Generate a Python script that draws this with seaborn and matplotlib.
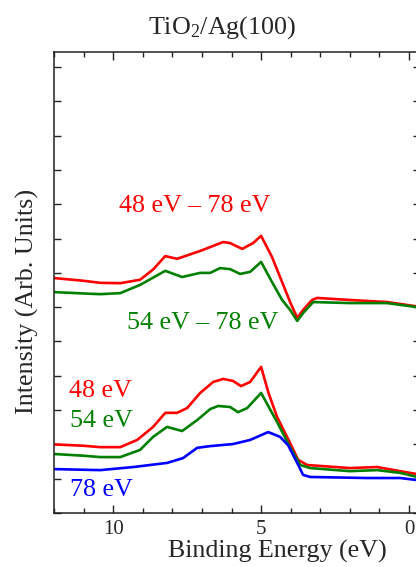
import matplotlib
matplotlib.use("Agg")
import matplotlib.pyplot as plt
import seaborn as sns
import pandas as pd
from matplotlib.ticker import MultipleLocator, NullFormatter

# binding energy (eV) and intensity (arb. units)
be_48 = [12.0, 11.0, 10.44, 9.76, 9.19, 8.65, 8.24, 7.84, 7.5, 7.06, 6.62, 6.28, 5.95,
         5.68, 5.37, 5.0, 4.75, 4.46, 4.02, 3.75, 3.45, 2.0, 1.08, 0.3, -0.37]
int_48 = [2.0, 1.96, 1.92, 1.92, 2.13, 2.51, 2.92, 2.92, 3.06, 3.50, 3.82, 3.91, 3.85,
          3.70, 3.82, 4.26, 3.5, 2.80, 2.04, 1.55, 1.40, 1.31, 1.34, 1.22, 1.12]

be_54 = [12.0, 11.0, 10.44, 9.76, 9.09, 8.65, 8.18, 7.67, 7.16, 6.72, 6.45, 6.05, 5.78,
         5.47, 5.0, 4.46, 4.02, 3.68, 3.34, 2.0, 1.08, 0.3, -0.37]
int_54 = [1.72, 1.67, 1.63, 1.63, 1.84, 2.22, 2.51, 2.39, 2.71, 3.03, 3.12, 3.09, 2.94,
          3.06, 3.50, 2.65, 1.92, 1.40, 1.31, 1.22, 1.25, 1.17, 1.03]

be_78 = [12.0, 10.44, 9.32, 8.18, 7.64, 7.16, 6.72, 5.95, 5.37, 4.76, 4.36, 4.09, 3.78,
         3.58, 3.34, 1.42, 0.3, -0.37]
int_78 = [1.28, 1.25, 1.34, 1.46, 1.60, 1.90, 1.95, 2.01, 2.13, 2.36, 2.22, 1.98, 1.46,
          1.11, 1.05, 1.02, 1.02, 0.95]

be_d48 = [12.0, 11.0, 10.44, 9.76, 9.09, 8.65, 8.24, 7.84, 7.06, 6.28, 6.05, 5.64, 5.27,
          5.0, 4.63, 4.29, 4.02, 3.78, 3.58, 3.28, 3.11, 1.99, 0.74, -0.37]
int_d48 = [6.85, 6.77, 6.71, 6.70, 6.80, 7.10, 7.49, 7.41, 7.64, 7.90, 7.87, 7.70, 7.87,
           8.08, 7.46, 6.73, 6.15, 5.69, 5.92, 6.21, 6.27, 6.21, 6.15, 6.01]

be_d54 = [12.0, 11.0, 10.44, 9.76, 9.09, 8.24, 7.67, 7.06, 6.72, 6.39, 6.05, 5.71, 5.37,
          5.0, 4.63, 4.29, 4.02, 3.78, 3.58, 3.24, 1.99, 0.74, -0.37]
int_d54 = [6.44, 6.40, 6.38, 6.41, 6.65, 7.06, 6.88, 7.00, 7.00, 7.14, 7.11, 6.97, 7.03,
           7.32, 6.73, 6.21, 5.92, 5.60, 5.83, 6.15, 6.12, 6.12, 5.99]

red = "#ff0000"
green = "#008000"
blue = "#0000ff"

series = [
    (be_48, int_48, red),
    (be_54, int_54, green),
    (be_78, int_78, blue),
    (be_d48, int_d48, red),
    (be_d54, int_d54, green),
]

labels = [
    ("48 eV \u2013 78 eV", 7.26, 8.78, red, "center"),
    ("54 eV \u2013 78 eV", 9.53, 5.36, green, "left"),
    ("48 eV", 11.49, 3.38, red, "left"),
    ("54 eV", 11.45, 2.51, green, "left"),
    ("78 eV", 11.45, 0.50, blue, "left"),
]

sns.set_style("ticks")
plt.rcParams["font.family"] = ["Liberation Serif", "DejaVu Serif"]
plt.rcParams["mathtext.fontset"] = "custom"
plt.rcParams["mathtext.rm"] = "Liberation Serif"
plt.rcParams["mathtext.it"] = "Liberation Serif:italic"

fig = plt.figure(figsize=(4.16, 5.67), dpi=100)
ax = fig.add_axes([54 / 416, 54 / 567, 366 / 416, 461 / 567])

for xs, ys, c in series:
    df = pd.DataFrame({"be": xs, "i": ys})
    sns.lineplot(data=df, x="be", y="i", color=c, lw=1.9, estimator=None, ax=ax)

for txt, x, y, c, ha in labels:
    ax.text(x, y, txt, color=c, fontsize=18.7, ha=ha, va="baseline")

ax.set_xlim(12, -0.37)
ax.set_ylim(0, 13.44)
ax.xaxis.set_major_locator(MultipleLocator(5))
ax.xaxis.set_minor_locator(MultipleLocator(1))
ax.yaxis.set_major_locator(MultipleLocator(1))
ax.yaxis.set_major_formatter(NullFormatter())
ax.tick_params(which="both", direction="in", top=True, right=True, width=1.0, color="#222222")
ax.tick_params(which="major", length=5.5, labelsize=15, pad=5)
ax.tick_params(which="minor", length=3.8)
ax.tick_params(axis="y", which="major", length=5)
for s in ax.spines.values():
    s.set_linewidth(1.1)
    s.set_color("#222222")

ax.set_xlabel("Binding Energy (eV)", fontsize=18.7)
ax.xaxis.set_label_coords(0.61, -0.058)
ax.set_ylabel("Intensity (Arb. Units)", fontsize=18.7)
ax.yaxis.set_label_coords(-0.041, 0.458)
ax.set_title(r"TiO$_\mathrm{2}$/Ag(100)", fontsize=18.7, x=0.46, pad=13)

plt.savefig("out.png", dpi=100)
